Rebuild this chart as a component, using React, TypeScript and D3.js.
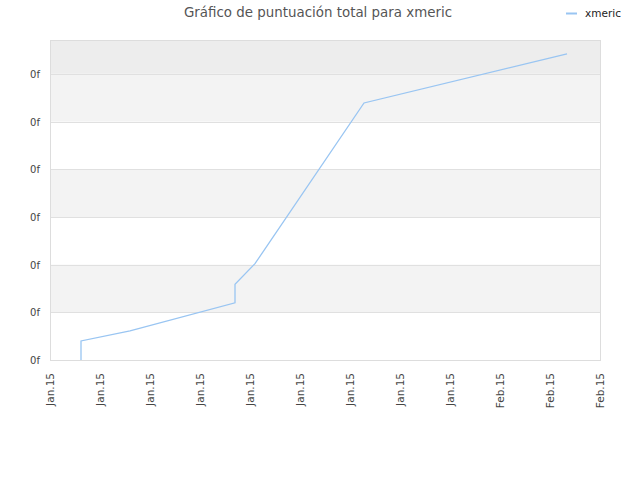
import * as d3 from "d3";
import { useEffect, useRef } from "react";

// x in tick-interval units, y in grid-step units (the chart shows no real values)
const pointX = [0.62, 0.62, 1.6, 3.7, 3.7, 4.1, 6.28, 10.34];
const pointY = [0, 0.4, 0.61, 1.2, 1.59, 2.02, 5.39, 6.42];
const xTickLabels = [
  "Jan.15", "Jan.15", "Jan.15", "Jan.15", "Jan.15", "Jan.15",
  "Jan.15", "Jan.15", "Jan.15", "Feb.15", "Feb.15", "Feb.15",
];
const yTicks = [0, 1, 2, 3, 4, 5, 6];
const yTickLabel = "0f";

const seriesName = "xmeric";
const title = "Gráfico de puntuación total para xmeric";

export default function App() {
  const svgRef = useRef<SVGSVGElement>(null);

  useEffect(() => {
    if (!svgRef.current) return;
    const svg = d3.select(svgRef.current);
    svg.selectAll("*").remove();

    const left = 50;
    const right = 600;
    const top = 40;
    const bottom = 360;
    const lineColor = "#99c5f2";

    const x = d3.scaleLinear().domain([0, xTickLabels.length - 1]).range([left, right]);
    const y = d3.scaleLinear().domain([0, 6.71]).range([bottom, top]);

    const g = svg.append("g");

    // top band above last tick
    g.append("rect")
      .attr("x", left)
      .attr("y", top)
      .attr("width", right - left)
      .attr("height", y(6) - top)
      .attr("fill", "#ededed");

    // alternating bands
    yTicks.slice(0, -1).forEach((t) => {
      if (t % 2 === 1) {
        g.append("rect")
          .attr("x", left)
          .attr("y", y(t + 1))
          .attr("width", right - left)
          .attr("height", y(t) - y(t + 1))
          .attr("fill", "#f3f3f3");
      }
    });

    // grid lines
    g.selectAll(".grid")
      .data(yTicks)
      .join("line")
      .attr("x1", left)
      .attr("x2", right)
      .attr("y1", (d) => Math.round(y(d)) + 0.5)
      .attr("y2", (d) => Math.round(y(d)) + 0.5)
      .attr("stroke", "#e0e0e0");

    // plot border
    g.append("rect")
      .attr("x", left + 0.5)
      .attr("y", top + 0.5)
      .attr("width", right - left)
      .attr("height", bottom - top)
      .attr("fill", "none")
      .attr("stroke", "#dddddd");

    // y labels
    g.selectAll(".ylab")
      .data(yTicks)
      .join("text")
      .attr("x", 40)
      .attr("y", (d) => y(d) + 4)
      .attr("text-anchor", "end")
      .attr("font-family", "DejaVu Sans")
      .attr("font-size", "10px")
      .attr("fill", "#444")
      .text(yTickLabel);

    // x labels
    g.selectAll(".xlab")
      .data(xTickLabels)
      .join("text")
      .attr("transform", (_, i) => `translate(${x(i) + 4},${bottom + 13}) rotate(-90)`)
      .attr("text-anchor", "end")
      .attr("font-family", "DejaVu Sans")
      .attr("font-size", "10.5px")
      .attr("fill", "#444")
      .text((d) => d);

    // line
    const line = d3
      .line<number>()
      .x((_, i) => x(pointX[i]))
      .y((d) => y(d));

    g.append("path")
      .datum(pointY)
      .attr("d", line)
      .attr("fill", "none")
      .attr("stroke", lineColor)
      .attr("stroke-width", 1.3);

    // title
    svg.append("text")
      .attr("x", 318)
      .attr("y", 17)
      .attr("text-anchor", "middle")
      .attr("font-family", "DejaVu Sans")
      .attr("font-size", "13.4px")
      .attr("fill", "#555")
      .text(title);

    // legend
    svg.append("line")
      .attr("x1", 566)
      .attr("x2", 577)
      .attr("y1", 13.5)
      .attr("y2", 13.5)
      .attr("stroke", lineColor)
      .attr("stroke-width", 2);
    svg.append("text")
      .attr("x", 585)
      .attr("y", 16.5)
      .attr("font-family", "DejaVu Sans")
      .attr("font-size", "10.5px")
      .attr("fill", "#222")
      .text(seriesName);
  }, []);

  return (
    <svg
      ref={svgRef}
      width={640}
      height={480}
      style={{ position: "absolute", left: 0, top: 0, background: "#fff" }}
    />
  );
}
